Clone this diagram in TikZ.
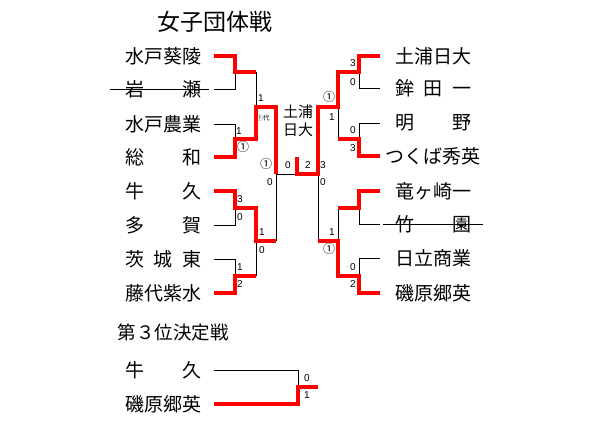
\documentclass[tikz,border=0pt]{standalone}
\usepackage{fontspec}
\setmainfont{Liberation Sans}
\newfontfamily\jp{Noto Sans CJK JP}
\begin{document}
\begin{tikzpicture}[x=1pt,y=-1pt,line join=miter,
  team/.style={inner sep=0pt,font=\jp\fontsize{19}{19}\selectfont},
  ttl/.style={inner sep=0pt,font=\jp\fontsize{23}{23}\selectfont},
  sub/.style={inner sep=0pt,font=\jp\fontsize{18.5}{18.5}\selectfont},
  sc/.style={inner sep=0pt,font=\fontsize{10}{10}\selectfont},
  circ/.style={inner sep=0pt,font=\jp\fontsize{12}{12}\selectfont},
  tiny/.style={inner sep=0pt,font=\jp\fontsize{6.5}{6.5}\selectfont},
  lose/.style={draw=black,line width=0.8pt},
  win/.style={draw=red,line width=3.6pt},
  strike/.style={draw=black,line width=0.8pt}]
\useasboundingbox (0,0) rectangle (594,433);
% titles
\node[ttl] (title) at (215,22) {女子団体戦};
\node[sub] (third) at (173,332) {第３位決定戦};
\node[team] (champ) at (298,123) {\begin{tabular}{@{}c@{}}\fontsize{15}{15}\selectfont 土浦\\[-1pt]\fontsize{15}{15}\selectfont 日大\end{tabular}};
% left teams
\node[team] (L1) at (163,56) {水戸葵陵};
\node[team] (L2) at (163,89) {岩　　瀬};
\node[team] (L3) at (163,124) {水戸農業};
\node[team] (L4) at (163,157) {総　　和};
\node[team] (L5) at (163,191) {牛　　久};
\node[team] (L6) at (163,225) {多　　賀};
\node[team] (L7) at (163,259) {茨\hspace{0.5em}城\hspace{0.5em}東};
\node[team] (L8) at (163,293) {藤代紫水};
% right teams
\node[team] (R1) at (433,56) {土浦日大};
\node[team] (R2) at (433,88) {鉾\hspace{0.5em}田\hspace{0.5em}一};
\node[team] (R3) at (433,123) {明　　野};
\node[team] (R4) at (433,156) {つくば秀英};
\node[team] (R5) at (433,191) {竜ヶ崎一};
\node[team] (R6) at (433,224) {竹　　園};
\node[team] (R7) at (433,258) {日立商業};
\node[team] (R8) at (433,293) {磯原郷英};
% third place teams
\node[team] (T1) at (163,370) {牛　　久};
\node[team] (T2) at (163,404) {磯原郷英};
% strikes
\draw[strike] (110,89) -- (209,89);
\draw[strike] (383,224) -- (483,224);
% black lines
\draw[lose] (214,89) -- (235,89) -- (235,72);
\draw[lose] (214,124) -- (235,124) -- (235,139);
\draw[lose] (256,72) -- (256,107);
\draw[lose] (276,241) -- (276,174) -- (297,174);
\draw[lose] (214,225) -- (235,225) -- (235,208);
\draw[lose] (214,259) -- (235,259) -- (235,276);
\draw[lose] (256,276) -- (256,241);
\draw[lose] (380,88) -- (359,88) -- (359,72);
\draw[lose] (338,107) -- (338,139);
\draw[lose] (380,123) -- (359,123) -- (359,139);
\draw[lose] (318,174) -- (318,241);
\draw[lose] (338,208) -- (338,241);
\draw[lose] (380,224) -- (359,224) -- (359,208);
\draw[lose] (380,258) -- (359,258) -- (359,276);
\draw[lose] (214,370) -- (298,370) -- (298,387);
% red lines
\draw[win] (214,56) -- (235,56) -- (235,72) -- (256,72);
\draw[win] (214,157) -- (235,157) -- (235,139) -- (256,139) -- (256,107) -- (276,107) -- (276,174);
\draw[win] (214,191) -- (235,191) -- (235,208) -- (256,208) -- (256,241) -- (276,241);
\draw[win] (214,293) -- (235,293) -- (235,276) -- (256,276);
\draw[win] (297,157) -- (297,174) -- (318,174) -- (318,107) -- (338,107) -- (338,72) -- (359,72) -- (359,56) -- (380,56);
\draw[win] (380,156) -- (359,156) -- (359,139) -- (338,139);
\draw[win] (318,241) -- (338,241) -- (338,276) -- (359,276) -- (359,293) -- (380,293);
\draw[win] (380,191) -- (359,191) -- (359,208) -- (338,208);
\draw[win] (214,404) -- (298,404) -- (298,387) -- (318,387);
% score labels left
\node[sc] at (261,98) {1};
\node[tiny] at (263,118) {①代};
\node[sc] at (239,131) {1};
\node[circ] at (243,147) {①};
\node[circ] at (266,164) {①};
\node[sc] at (270,182) {0};
\node[sc] at (288,165) {0};
\node[sc] at (308,165) {2};
\node[sc] at (323,165) {3};
\node[sc] at (323,182) {0};
\node[sc] at (240,199) {3};
\node[sc] at (240,217) {0};
\node[sc] at (262,232) {1};
\node[sc] at (262,250) {0};
\node[sc] at (240,267) {1};
\node[sc] at (240,284) {2};
% score labels right
\node[sc] at (353,63) {3};
\node[sc] at (353,82) {0};
\node[circ] at (329,97) {①};
\node[sc] at (332,117) {1};
\node[sc] at (353,130) {0};
\node[sc] at (353,148) {3};
\node[sc] at (332,232) {1};
\node[circ] at (329,249) {①};
\node[sc] at (353,267) {0};
\node[sc] at (353,284) {2};
% third place
\node[sc] at (307,378) {0};
\node[sc] at (307,395) {1};
\end{tikzpicture}
\end{document}
